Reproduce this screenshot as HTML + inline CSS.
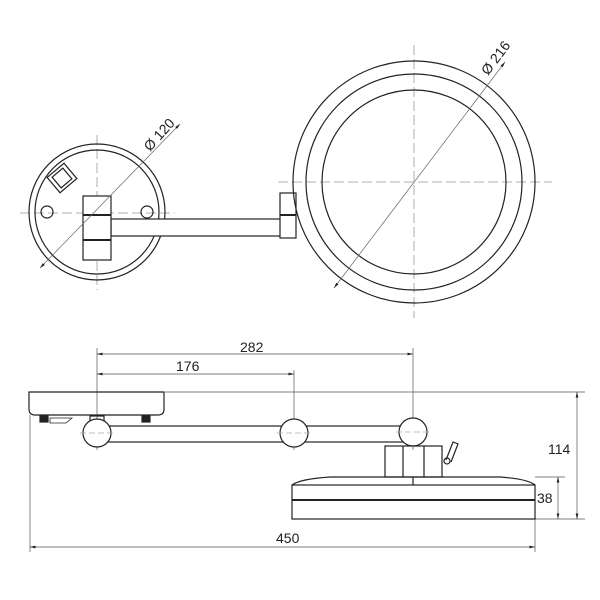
<!DOCTYPE html>
<html><head><style>body{margin:0;background:#fff}svg{display:block}text{font-family:"Liberation Sans",sans-serif;font-size:14px;fill:#222;stroke:none}</style></head><body>
<svg width="600" height="600" viewBox="0 0 600 600" fill="none" stroke="#222" stroke-width="1.2">
<defs><marker id="a" markerWidth="8" markerHeight="6" refX="8" refY="3" orient="auto-start-reverse"><path d="M0,1 L8,3 L0,5z" fill="#222" stroke="none"/></marker></defs>
<g stroke="#999" stroke-width="0.8" stroke-dasharray="10,4">
<line x1="20" y1="213" x2="175" y2="213"/><line x1="97" y1="135" x2="97" y2="290"/>
<line x1="278" y1="182" x2="552" y2="182"/><line x1="414" y1="45" x2="414" y2="318"/>
</g>
<circle cx="97" cy="212" r="68"/><circle cx="97" cy="212" r="62"/>
<circle cx="47" cy="212" r="6"/><circle cx="147" cy="212" r="6"/>
<g transform="rotate(-40 62 178)"><rect x="51" y="168" width="22" height="20"/><rect x="55" y="171" width="14" height="14"/></g>
<rect x="111" y="219" width="172" height="17" fill="#fff"/>
<rect x="83" y="196" width="28" height="64" fill="#fff"/>
<line x1="83" y1="215" x2="111" y2="215" stroke-width="2"/><line x1="83" y1="240" x2="111" y2="240" stroke-width="2"/>
<line x1="40" y1="268" x2="180" y2="124" stroke="#666" stroke-width="0.7" marker-end="url(#a)" marker-start="url(#a)"/>
<text transform="translate(150 152) rotate(-48)">Ø 120</text>
<rect x="280" y="193" width="16" height="45" fill="#fff"/><line x1="280" y1="215" x2="296" y2="215" stroke-width="2"/>
<circle cx="414" cy="182" r="121"/><circle cx="414" cy="182" r="108"/><circle cx="414" cy="182" r="92"/>
<line x1="334" y1="288" x2="505" y2="62" stroke="#666" stroke-width="0.7" marker-end="url(#a)" marker-start="url(#a)"/>
<text transform="translate(488 76) rotate(-53)">Ø 216</text>
<g stroke="#555" stroke-width="0.7">
<line x1="97" y1="348" x2="97" y2="450"/><line x1="294" y1="370" x2="294" y2="450"/><line x1="413" y1="348" x2="413" y2="450"/>
<line x1="97" y1="354" x2="413" y2="354" marker-end="url(#a)" marker-start="url(#a)"/>
<line x1="97" y1="374" x2="294" y2="374" marker-end="url(#a)" marker-start="url(#a)"/>
<line x1="165" y1="392" x2="585" y2="392"/><line x1="535" y1="477" x2="565" y2="477"/><line x1="535" y1="519" x2="585" y2="519"/>
<line x1="577" y1="392" x2="577" y2="519" marker-end="url(#a)" marker-start="url(#a)"/>
<line x1="558" y1="477" x2="558" y2="519" marker-end="url(#a)" marker-start="url(#a)"/>
<line x1="30" y1="415" x2="30" y2="552"/><line x1="535" y1="519" x2="535" y2="552"/>
<line x1="30" y1="547" x2="535" y2="547" marker-end="url(#a)" marker-start="url(#a)"/>
</g>
<text x="240" y="352">282</text><text x="176" y="371">176</text><text x="548" y="454">114</text><text x="537" y="503">38</text><text x="276" y="543">450</text>
<path d="M29,392 H164 V409 Q164,415 158,415 H35 Q29,415 29,409 Z"/>
<rect x="40" y="416" width="8" height="6" fill="#222"/><path d="M50,418 H72 L66,423 H50Z" stroke-width="0.8"/>
<rect x="142" y="416" width="8" height="6" fill="#222"/>
<rect x="90" y="416" width="14" height="6"/>
<rect x="97" y="426" width="316" height="16"/>
<circle cx="97" cy="433" r="14" fill="#fff"/><circle cx="294" cy="433" r="14" fill="#fff"/><circle cx="413" cy="432" r="14" fill="#fff"/>
<g stroke="#aaa" stroke-width="0.7" stroke-dasharray="6,3"><line x1="80" y1="433" x2="114" y2="433"/><line x1="277" y1="433" x2="311" y2="433"/><line x1="396" y1="432" x2="430" y2="432"/></g>
<rect x="385" y="446" width="57" height="31"/><line x1="403" y1="446" x2="403" y2="477"/><line x1="424" y1="446" x2="424" y2="477"/>
<line x1="413" y1="477" x2="413" y2="485"/>
<path d="M446,460 L453,442 L458,444 L451,462" /><circle cx="447" cy="461" r="3"/>
<path d="M292,485 Q300,479 330,477 H500 Q528,479 535,485"/>
<rect x="292" y="485" width="243" height="34"/><line x1="292" y1="500" x2="535" y2="500" stroke-width="2"/>
</svg>
</body></html>
